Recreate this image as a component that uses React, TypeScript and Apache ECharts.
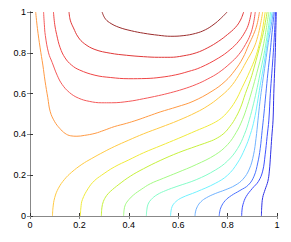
import React, { useEffect, useRef } from "react";
import * as echarts from "echarts";

const xTicks = [0, 0.2, 0.4, 0.6, 0.8, 1];
const yTicks = [0, 0.2, 0.4, 0.6, 0.8, 1];

// contour lines, from highest level (top) to lowest
const contour1 = [[0.292,1],[0.303,0.97],[0.322,0.948],[0.36,0.925],[0.41,0.908],[0.46,0.896],[0.52,0.886],[0.57,0.881],[0.62,0.884],[0.67,0.895],[0.71,0.913],[0.745,0.94],[0.772,0.968],[0.798,1]];
const contour2 = [[0.158,1],[0.163,0.96],[0.176,0.922],[0.195,0.877],[0.22,0.845],[0.263,0.816],[0.325,0.798],[0.39,0.788],[0.46,0.781],[0.52,0.778],[0.568,0.778],[0.62,0.785],[0.673,0.8],[0.72,0.825],[0.764,0.857],[0.8,0.89],[0.832,0.925],[0.852,0.96],[0.865,1]];
const contour3 = [[0.095,1],[0.1,0.94],[0.108,0.889],[0.122,0.825],[0.142,0.775],[0.168,0.74],[0.2,0.716],[0.263,0.69],[0.325,0.679],[0.4,0.673],[0.47,0.674],[0.53,0.68],[0.59,0.692],[0.64,0.708],[0.69,0.728],[0.764,0.775],[0.81,0.815],[0.845,0.857],[0.872,0.905],[0.886,0.945],[0.896,1]];
const contour4 = [[0.055,1],[0.058,0.94],[0.062,0.885],[0.075,0.8],[0.09,0.752],[0.11,0.69],[0.13,0.645],[0.16,0.605],[0.196,0.578],[0.24,0.562],[0.29,0.555],[0.33,0.555],[0.4,0.562],[0.46,0.575],[0.52,0.59],[0.568,0.604],[0.62,0.622],[0.673,0.645],[0.72,0.672],[0.764,0.703],[0.81,0.748],[0.845,0.791],[0.872,0.84],[0.892,0.889],[0.904,0.94],[0.912,1]];
const contour5 = [[0.023,1],[0.03,0.92],[0.041,0.824],[0.052,0.74],[0.061,0.661],[0.072,0.58],[0.082,0.511],[0.1,0.462],[0.12,0.43],[0.142,0.405],[0.165,0.393],[0.19,0.391],[0.22,0.395],[0.263,0.405],[0.3,0.42],[0.341,0.438],[0.39,0.454],[0.433,0.47],[0.48,0.49],[0.527,0.51],[0.595,0.535],[0.66,0.562],[0.737,0.612],[0.79,0.66],[0.83,0.715],[0.862,0.775],[0.886,0.84],[0.905,0.89],[0.919,0.938],[0.929,1]];
const contour6 = [[0.091,0],[0.093,0.04],[0.1,0.09],[0.115,0.136],[0.14,0.18],[0.169,0.215],[0.21,0.253],[0.25,0.282],[0.3,0.315],[0.341,0.34],[0.4,0.372],[0.46,0.403],[0.53,0.435],[0.6,0.468],[0.673,0.508],[0.72,0.54],[0.764,0.579],[0.81,0.63],[0.845,0.69],[0.875,0.755],[0.906,0.824],[0.922,0.88],[0.933,0.938],[0.942,1]];
const contour7 = [[0.204,0],[0.206,0.04],[0.212,0.08],[0.236,0.136],[0.26,0.172],[0.29,0.2],[0.341,0.24],[0.4,0.275],[0.46,0.31],[0.53,0.345],[0.6,0.38],[0.673,0.418],[0.72,0.442],[0.75,0.46],[0.775,0.48],[0.8,0.51],[0.83,0.56],[0.859,0.63],[0.89,0.71],[0.912,0.775],[0.928,0.84],[0.94,0.906],[0.952,1]];
const contour8 = [[0.289,0],[0.291,0.04],[0.297,0.071],[0.31,0.1],[0.325,0.12],[0.36,0.155],[0.406,0.195],[0.46,0.232],[0.527,0.272],[0.6,0.31],[0.673,0.342],[0.72,0.362],[0.75,0.377],[0.785,0.405],[0.81,0.44],[0.828,0.472],[0.852,0.53],[0.872,0.6],[0.893,0.67],[0.91,0.74],[0.928,0.82],[0.945,0.9],[0.96,1]];
const contour9 = [[0.379,0],[0.381,0.03],[0.386,0.055],[0.4,0.08],[0.42,0.104],[0.45,0.13],[0.487,0.158],[0.54,0.185],[0.595,0.212],[0.673,0.252],[0.75,0.3],[0.8,0.35],[0.835,0.41],[0.86,0.472],[0.88,0.54],[0.9,0.62],[0.918,0.7],[0.935,0.78],[0.95,0.87],[0.967,1]];
const contour10 = [[0.471,0],[0.473,0.03],[0.478,0.058],[0.49,0.08],[0.514,0.104],[0.55,0.125],[0.595,0.145],[0.673,0.178],[0.75,0.225],[0.8,0.27],[0.84,0.33],[0.868,0.4],[0.888,0.472],[0.905,0.55],[0.92,0.63],[0.935,0.72],[0.95,0.81],[0.962,0.9],[0.974,1]];
const contour11 = [[0.569,0],[0.571,0.025],[0.576,0.048],[0.59,0.07],[0.615,0.09],[0.673,0.118],[0.75,0.16],[0.8,0.2],[0.84,0.26],[0.87,0.33],[0.892,0.4],[0.908,0.472],[0.92,0.55],[0.932,0.64],[0.945,0.73],[0.957,0.82],[0.968,0.91],[0.98,1]];
const contour12 = [[0.668,0],[0.67,0.02],[0.677,0.045],[0.692,0.07],[0.715,0.09],[0.75,0.11],[0.79,0.128],[0.83,0.15],[0.862,0.18],[0.888,0.23],[0.905,0.3],[0.915,0.38],[0.923,0.47],[0.931,0.56],[0.941,0.65],[0.953,0.75],[0.965,0.85],[0.976,0.93],[0.985,1]];
const contour13 = [[0.766,0],[0.768,0.02],[0.774,0.045],[0.79,0.075],[0.815,0.1],[0.85,0.125],[0.884,0.152],[0.907,0.195],[0.922,0.26],[0.932,0.33],[0.94,0.42],[0.947,0.5],[0.955,0.6],[0.963,0.7],[0.972,0.8],[0.98,0.9],[0.989,1]];
const contour14 = [[0.857,0],[0.858,0.025],[0.862,0.055],[0.875,0.095],[0.9,0.135],[0.925,0.17],[0.942,0.22],[0.952,0.3],[0.96,0.39],[0.967,0.47],[0.973,0.6],[0.979,0.7],[0.985,0.8],[0.99,0.9],[0.994,1]];
const contour15 = [[0.937,0],[0.938,0.04],[0.942,0.09],[0.952,0.13],[0.963,0.17],[0.969,0.22],[0.974,0.3],[0.979,0.39],[0.984,0.47],[0.987,0.6],[0.99,0.7],[0.993,0.8],[0.995,0.9],[0.997,1]];

const contours = [contour1, contour2, contour3, contour4, contour5, contour6, contour7, contour8, contour9, contour10, contour11, contour12, contour13, contour14, contour15];

const palette = ["#9b2d2d", "#e03838", "#ef4646", "#f45a5a", "#ff9a44", "#ffca44", "#f0ea3c", "#c6f03c", "#a4fa84", "#84fcc8", "#70f2ff", "#70b2ff", "#4a72ff", "#3e50ff", "#2f32e6"];

export default function App() {
  const ref = useRef<HTMLDivElement>(null);
  useEffect(() => {
    if (!ref.current) return;
    const chart = echarts.init(ref.current, undefined, { renderer: "svg" });
    const font = { fontFamily: "Liberation Sans", fontSize: 9, color: "#000" };
    const baseAxis = {
      type: "value" as const,
      min: 0,
      max: 1,
      interval: 0.2,
      splitLine: { show: false },
    };
    chart.setOption({
      animation: false,
      backgroundColor: "#fff",
      grid: { left: 30, right: 14, top: 12, bottom: 26 },
      xAxis: [
        {
          ...baseAxis,
          position: "bottom",
          axisLine: { show: true, lineStyle: { color: "#333", width: 1 } },
          axisTick: { show: true, inside: true, length: 3, lineStyle: { color: "#333" } },
          axisLabel: { ...font, margin: 4, customValues: xTicks, formatter: (v: number) => String(v) },
        },
        {
          ...baseAxis,
          position: "top",
          axisLine: { show: true, lineStyle: { color: "#888", width: 1 } },
          axisTick: { show: true, inside: true, length: 3, lineStyle: { color: "#888" } },
          axisLabel: { show: false },
        },
      ],
      yAxis: [
        {
          ...baseAxis,
          position: "left",
          axisLine: { show: true, lineStyle: { color: "#333", width: 1 } },
          axisTick: { show: true, inside: true, length: 3, lineStyle: { color: "#333" } },
          axisLabel: { ...font, margin: 4, customValues: yTicks, formatter: (v: number) => String(v) },
        },
        {
          ...baseAxis,
          position: "right",
          axisLine: { show: true, lineStyle: { color: "#888", width: 1 } },
          axisTick: { show: true, inside: true, length: 3, lineStyle: { color: "#888" } },
          axisLabel: { show: false },
        },
      ],
      series: contours.map((pts, i) => ({
        type: "line",
        xAxisIndex: 0,
        yAxisIndex: 0,
        data: pts,
        smooth: 0.4,
        symbol: "none",
        clip: true,
        lineStyle: { color: palette[i], width: 1 },
      })),
    });
    return () => chart.dispose();
  }, []);
  return <div ref={ref} style={{ position: "fixed", left: 0, top: 0, width: 291, height: 242 }} />;
}
